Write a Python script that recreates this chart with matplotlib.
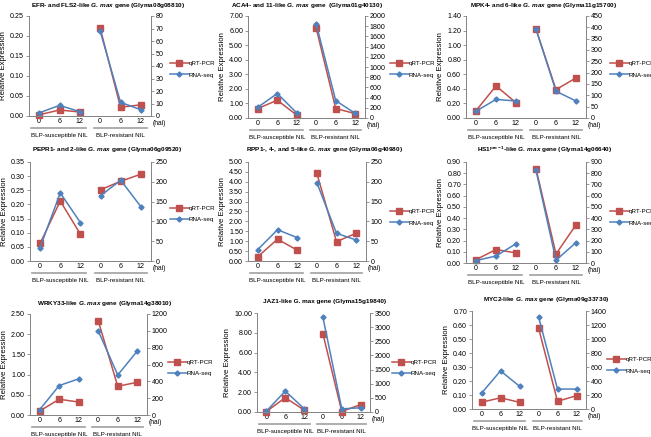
import numpy as np
import matplotlib
matplotlib.use('Agg')
import matplotlib.pyplot as plt
from matplotlib.transforms import blended_transform_factory, offset_copy
from matplotlib.ticker import FormatStrFormatter, MultipleLocator

plt.rcParams['font.family'] = 'Liberation Sans'
plt.rcParams['mathtext.fontset'] = 'custom'
plt.rcParams['mathtext.it'] = 'Liberation Sans:italic:bold'
plt.rcParams['mathtext.rm'] = 'Liberation Sans:bold'

W, H = 651, 437

titles = [
    r'EFR- and FLS2-like $\it{G.\,max}$ gene (Glyma08g08810)',
    r'ACA4- and 11-like $\it{G.\,max}$ gene  (Glyma01g40130)',
    r'MPK4- and 6-like $\it{G.\,max}$ gene (Glyma11g15700)',
    r'PEPR1- and 2-like $\it{G.\,max}$ gene (Glyma06g09520)',
    r'RPP1-, 4-, and 5-like $\it{G.\,max}$ gene (Glyma06g40980)',
    r'HS1$^{\mathrm{pro-1}}$-like $\it{G.\,max}$ gene (Glyma14g06640)',
    r'WRKY33-like $\it{G.\,max}$ gene (Glyma14g38010)',
    r'JAZ1-like G. max gene (Glyma15g19840)',
    r'MYC2-like $\it{G.\,max}$ gene (Glyma09g33730)',
]

hours = ['0', '6', '12', '0', '6', '12']
groups = ['BLP-susceptible NIL', 'BLP-resistant NIL']

# qRT-PCR relative expression (left axis), susceptible 0/6/12 then resistant 0/6/12
qrt_pcr = [
    [0.003, 0.015, 0.010, 0.220, 0.022, 0.028],
    [0.65, 1.22, 0.20, 6.15, 0.65, 0.30],
    [0.10, 0.44, 0.21, 1.22, 0.39, 0.55],
    [0.062, 0.212, 0.095, 0.252, 0.282, 0.307],
    [0.22, 1.10, 0.55, 4.43, 0.98, 1.40],
    [0.03, 0.12, 0.09, 0.84, 0.08, 0.34],
    [0.10, 0.39, 0.32, 2.33, 0.71, 0.81],
    [0.05, 1.45, 0.20, 7.90, 0.05, 0.75],
    [0.048, 0.080, 0.048, 0.580, 0.055, 0.095],
]
# RNA-seq (right axis)
rna_seq = [
    [2.5, 8.5, 3.5, 68, 11, 5],
    [210, 480, 100, 1840, 340, 90],
    [30, 82, 75, 392, 118, 75],
    [34, 172, 97, 165, 204, 137],
    [29, 79, 59, 198, 70, 53],
    [22, 62, 172, 825, 25, 182],
    [65, 350, 430, 1000, 475, 760],
    [30, 740, 120, 3350, 110, 150],
    [225, 545, 325, 1320, 285, 285],
]

left_max = [0.25, 7, 1.4, 0.35, 5, 0.9, 2.5, 10, 0.7]
left_step = [0.05, 1, 0.2, 0.05, 0.5, 0.1, 0.5, 2, 0.1]
right_max = [80, 2000, 450, 250, 250, 900, 1200, 3500, 1400]
right_step = [10, 200, 50, 50, 50, 100, 200, 500, 200]

# axes boxes in pixels: left, top, right, bottom
boxes = [
    (29, 16, 151, 116), (248, 16, 365, 118), (466, 16, 586, 118),
    (30, 162, 151, 261), (248, 162, 366, 261), (466, 162, 586, 263),
    (30, 314, 147, 415), (257, 313, 370, 412), (472, 311, 586, 409),
]
title_pos = [(108, 5), (307, 5), (544, 5), (107, 150), (324, 150), (545, 150),
             (105, 303), (325, 302), (546, 300)]
legend_pos = [(170, 69), (390, 69), (610, 69), (170, 214), (390, 217), (610, 217),
              (168, 368), (392, 368), (607, 365)]

red = '#C0504D'
blue = '#4F81BD'
spine = '#868686'

fig = plt.figure(figsize=(W / 100, H / 100), dpi=100)

for i in range(9):
    l, t, r, b = boxes[i]
    ax = fig.add_axes([l / W, 1 - b / H, (r - l) / W, (b - t) / H])
    ax2 = ax.twinx()
    x = np.arange(6)
    q = qrt_pcr[i]
    s = rna_seq[i]
    for g in (slice(0, 3), slice(3, 6)):
        lq, = ax.plot(x[g], q[g], color=red, marker='s', ms=4.5, lw=1.1, clip_on=False)
        ls, = ax2.plot(x[g], s[g], color=blue, marker='D', ms=2.6, lw=1.1, clip_on=False)

    ax.set_xlim(-0.5, 5.5)
    ax.set_ylim(0, left_max[i])
    ax2.set_ylim(0, right_max[i])
    ax.yaxis.set_major_locator(MultipleLocator(left_step[i]))
    ax2.yaxis.set_major_locator(MultipleLocator(right_step[i]))
    ax.yaxis.set_major_formatter(FormatStrFormatter('%.2f'))
    ax.set_xticks(x)
    ax.set_xticklabels(hours)
    ax.tick_params(axis='x', length=0, pad=1.5, labelsize=5.1)
    ax.tick_params(axis='y', length=2, width=0.6, color=spine, pad=1.5, labelsize=5.1)
    ax2.tick_params(axis='y', length=2, width=0.6, color=spine, pad=1.5, labelsize=5.1)
    for a in (ax, ax2):
        a.spines['top'].set_visible(False)
        for k in ('left', 'right', 'bottom'):
            a.spines[k].set_color(spine)
            a.spines[k].set_linewidth(0.7)
    ax.set_ylabel('Relative Expression', fontsize=5.6, labelpad=2)

    trans = blended_transform_factory(ax.transData, ax.transAxes)
    ax.text(5.5, 0, '(hai)', transform=offset_copy(trans, fig=fig, x=1, y=-5.2, units='points'),
            fontsize=4.8, ha='left', va='center')
    for gi, (x0, x1) in enumerate([(-0.4, 2.3), (2.7, 5.3)]):
        ax.plot([x0, x1], [0, 0], color='#A0A0A0', lw=1.2, clip_on=False,
                transform=offset_copy(trans, fig=fig, y=-8.8, units='points'))
        ax.text(1 + 3 * gi, 0, groups[gi],
                transform=offset_copy(trans, fig=fig, y=-13.7, units='points'),
                fontsize=4.5, ha='center', va='center')

    tx, ty = title_pos[i]
    fig.text(tx / W, 1 - ty / H, titles[i], fontsize=4.6, fontweight='bold',
             ha='center', va='center')

    lx, ly = legend_pos[i]
    fig.legend([lq, ls], ['qRT-PCR', 'RNA-seq'], loc='center left',
               bbox_to_anchor=(lx / W, 1 - ly / H), frameon=False, fontsize=4.5,
               handlelength=3.0, handletextpad=0.0, borderpad=0, borderaxespad=0,
               labelspacing=1.0)

fig.savefig('out.png', dpi=100)
